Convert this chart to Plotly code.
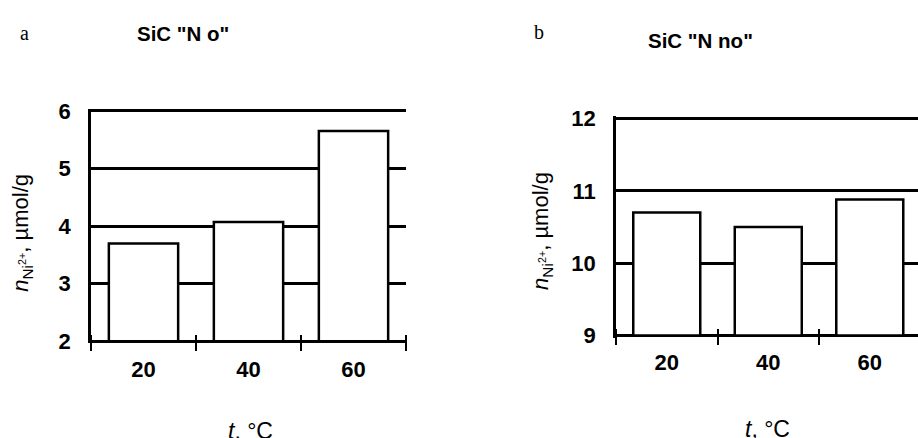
import plotly.graph_objects as go

categories = ["20", "40", "60"]
values_a = [3.70, 4.07, 5.65]
values_b = [10.70, 10.50, 10.88]
yticks_a = [2, 3, 4, 5, 6]
yticks_b = [9, 10, 11, 12]

FONT = "Liberation Sans, Arial, sans-serif"
BLACK = "#000000"
W, H = 918, 438

fig = go.Figure()

bar_style = dict(marker=dict(color="white", line=dict(color=BLACK, width=2.5)),
                 showlegend=False, hovertemplate="%{x} °C: %{customdata}<extra></extra>")

# bars start at the axis minimum (broken axis), so their bottom edge forms the baseline
base_val_a, base_val_b = yticks_a[0], yticks_b[0]
fig.add_trace(go.Bar(x=categories, y=[v - base_val_a for v in values_a], base=base_val_a,
                     customdata=values_a, xaxis="x", yaxis="y", **bar_style))
fig.add_trace(go.Bar(x=categories, y=[v - base_val_b for v in values_b], base=base_val_b,
                     customdata=values_b, xaxis="x2", yaxis="y2", **bar_style))

# layout geometry (pixels)
PAD_A, PAD_B = 0.035, 0.03          # small range padding so end gridlines are drawn
base_a, top_a = 348, 106            # pixel rows of y=2 and y=6
base_b, top_b = 342, 114            # pixel rows of y=9 and y=12
ppu_a = (base_a - top_a) / (yticks_a[-1] - yticks_a[0])
ppu_b = (base_b - top_b) / (yticks_b[-1] - yticks_b[0])

dom_xa = [91 / W, 406 / W]
dom_xb = [616 / W, 1.0]
dom_ya = [1 - (base_a + PAD_A * ppu_a) / H, 1 - (top_a - PAD_A * ppu_a) / H]
dom_yb = [1 - (base_b + PAD_B * ppu_b) / H, 1 - (top_b - PAD_B * ppu_b) / H]
HALF_TICK = 8  # x ticks cross the baseline: axis raised by half a tick

xcommon = dict(type="category", categoryorder="array", categoryarray=categories,
               showgrid=False, zeroline=False, showline=False,
               tickson="boundaries", ticks="outside", tickwidth=2, tickcolor=BLACK,
               ticklen=2 * HALF_TICK, fixedrange=True, anchor="free",
               tickfont=dict(family=FONT, size=22, color=BLACK, weight="bold"))
ycommon = dict(showgrid=True, gridcolor=BLACK, gridwidth=2.5, zeroline=False,
               showline=True, linecolor=BLACK, linewidth=2.5, ticks="",
               tickfont=dict(family=FONT, size=22, color=BLACK, weight="bold"),
               ticklabelstandoff=13, fixedrange=True)

fig.update_layout(
    width=W, height=H, autosize=False,
    margin=dict(l=0, r=0, t=0, b=0),
    paper_bgcolor="white", plot_bgcolor="white",
    bargap=0.34,
    xaxis=dict(domain=dom_xa, position=1 - (base_a - HALF_TICK) / H, range=[-0.5, 2.5],
               ticklabelstandoff=20, **xcommon),
    yaxis=dict(domain=dom_ya, anchor="x",
               range=[yticks_a[0] - PAD_A, yticks_a[-1] + PAD_A], tickvals=yticks_a,
               **ycommon),
    xaxis2=dict(domain=dom_xb, position=1 - (base_b - HALF_TICK) / H, range=[-0.5, 2.475],
                ticklabelstandoff=19, **xcommon),
    yaxis2=dict(domain=dom_yb, anchor="x2",
                range=[yticks_b[0] - PAD_B, yticks_b[-1] + PAD_B], tickvals=yticks_b,
                **ycommon),
)

def ann(text, x, y, size=20, family=FONT, angle=0, weight="normal"):
    fig.add_annotation(text=text, x=x / W, y=1 - y / H, xref="paper", yref="paper",
                       showarrow=False, textangle=angle, xanchor="center", yanchor="middle",
                       font=dict(family=family, size=size, color=BLACK, weight=weight))

ann("a", 24, 24, size=20, family="Liberation Serif, Times New Roman, serif")
ann("SiC \"N o\"", 183, 25, size=20.5, weight="bold")
ann("b", 539, 23, size=20, family="Liberation Serif, Times New Roman, serif")
ann("SiC \"N no\"", 700, 32, size=20.5, weight="bold")

ylab = "<i>n</i><sub>Ni<sup>2+</sup></sub>, µmol/g"
ann(ylab, 22, 234, size=22, angle=-90)
ann(ylab, 542, 232, size=22, angle=-90)

ann("<i>t</i>, °C", 250, 442, size=23)
ann("<i>t</i>, °C", 767, 440, size=23)

fig.write_html("out.html")
